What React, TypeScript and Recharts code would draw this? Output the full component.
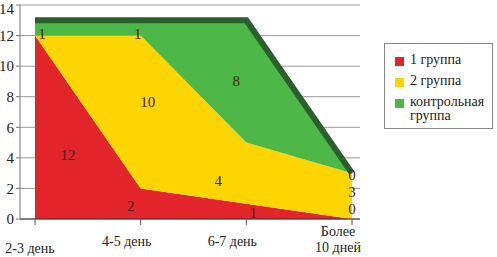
import React from "react";
import { AreaChart, Area, XAxis, YAxis, CartesianGrid, LabelList } from "recharts";

const categories = ["2-3 день", "4-5 день", "6-7 день", "Более 10 дней"];
const group1 = [12, 2, 1, 0];
const group2 = [0, 10, 4, 3];
const control = [1, 1, 8, 0];
const yTicks = [0, 2, 4, 6, 8, 10, 12, 14];

const data = categories.map((c, i) => ({ name: c, g1: group1[i], g2: group2[i], ctrl: control[i] }));

const PX_PER_UNIT = 214 / 14;
const FONT = "Liberation Serif, DejaVu Serif, Times New Roman, serif";

const makeLabel = (values: number[], dx: number[], dy: number[], hideFirst = false) => (props: any) => {
  const { x, y, index } = props;
  const v = values[index];
  if (hideFirst && index === 0) return null;
  const cy = y + (v * PX_PER_UNIT) / 2 + dy[index];
  return (
    <text x={x + dx[index]} y={cy} textAnchor="middle" dominantBaseline="central" fontFamily={FONT} fontSize={15} fill="#4a2020">
      {v}
    </text>
  );
};

const XTick = (props: any) => {
  const { x, y, payload, index } = props;
  const label: string = payload.value;
  if (label === "Более 10 дней") {
    return (
      <text x={x - 14} y={y + 9} textAnchor="middle" fontFamily={FONT} fontSize={14} fill="#222">
        <tspan x={x - 14} dy={0}>Более</tspan>
        <tspan x={x - 14} dy={16}>10 дней</tspan>
      </text>
    );
  }
  const dy = index === 0 ? 26 : 19;
  const dx = index === 0 ? -5 : -14;
  return (
    <text x={x + dx} y={y + dy} textAnchor="middle" fontFamily={FONT} fontSize={14} fill="#222">
      {label}
    </text>
  );
};

const legendItems = [
  { color: "#e2252b", lines: ["1 группа"] },
  { color: "#fdd500", lines: ["2 группа"] },
  { color: "#4db748", lines: ["контрольная", "группа"] },
];

export default function App() {
  return (
    <div style={{ position: "absolute", left: 0, top: 0, width: 497, height: 257, background: "#fff" }}>
      <AreaChart width={497} height={257} data={data} margin={{ top: 5, right: 137, bottom: 8, left: 0 }}>
        <CartesianGrid vertical={false} stroke="#9a9a9a" />
        <XAxis
          dataKey="name"
          padding={{ left: 15, right: 8 }}
          tick={<XTick />}
          tickLine={{ stroke: "#555" }}
          axisLine={{ stroke: "#333" }}
          height={30}
          interval={0}
        />
        <YAxis
          domain={[0, 14]}
          ticks={yTicks}
          width={20}
          tickSize={4}
          axisLine={{ stroke: "#777" }}
          tickLine={{ stroke: "#777" }}
          tick={{ fontFamily: FONT, fontSize: 15, fill: "#222" }}
        />
        <Area type="linear" dataKey="g1" stackId="s" stroke="none" fill="#e2252b" fillOpacity={1} isAnimationActive={false}>
          <LabelList content={makeLabel(group1, [33, -10, 7, 0], [28, 2, 2, -10])} />
        </Area>
        <Area type="linear" dataKey="g2" stackId="s" stroke="none" fill="#fdd500" fillOpacity={1} isAnimationActive={false}>
          <LabelList content={makeLabel(group2, [0, 7, -28, 0], [0, -10, 8, -4], true)} />
        </Area>
        <Area type="linear" dataKey="ctrl" stackId="s" stroke="#2b5f2c" strokeWidth={6} fill="#4db748" fillOpacity={1} isAnimationActive={false}>
          <LabelList content={makeLabel(control, [7, -3, -10, 0], [6, 6, 0, 2])} />
        </Area>
      </AreaChart>
      <div
        style={{
          position: "absolute",
          left: 384,
          top: 43,
          width: 109,
          height: 86,
          border: "1px solid #888",
          boxSizing: "border-box",
          fontFamily: FONT,
          fontSize: 14,
          color: "#222",
        }}
      >
        {legendItems.map((it, i) => (
          <div key={i} style={{ position: "absolute", left: 10, top: 9 + i * 21, display: "flex", alignItems: "flex-start" }}>
            <div style={{ width: 9, height: 9, background: it.color, marginTop: 4, marginRight: 6, flexShrink: 0 }} />
            <div style={{ lineHeight: "14px" }}>
              {it.lines.map((l, j) => (
                <div key={j}>{l}</div>
              ))}
            </div>
          </div>
        ))}
      </div>
    </div>
  );
}
